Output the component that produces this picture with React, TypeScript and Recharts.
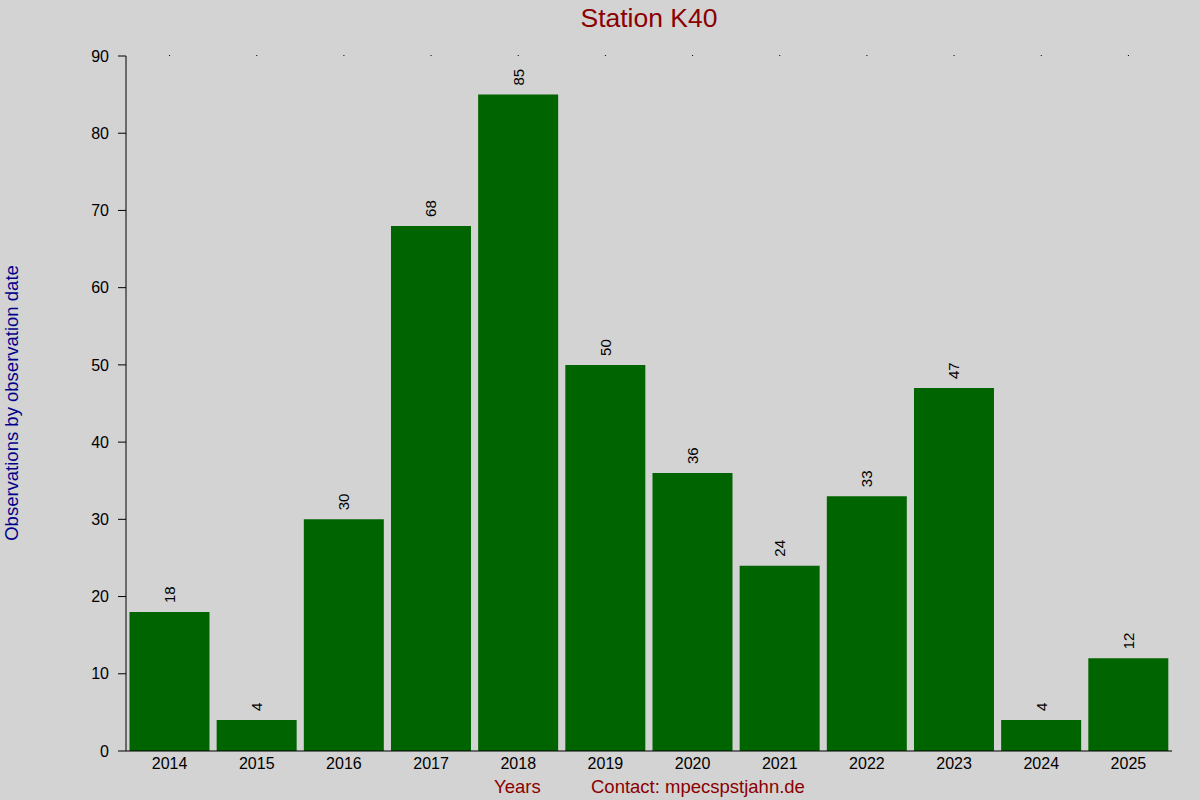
import React from 'react';
import { BarChart, Bar, XAxis, YAxis, LabelList } from 'recharts';

const years = ['2014', '2015', '2016', '2017', '2018', '2019', '2020', '2021', '2022', '2023', '2024', '2025'];
const observations = [18, 4, 30, 68, 85, 50, 36, 24, 33, 47, 4, 12];
const yTicks = [0, 10, 20, 30, 40, 50, 60, 70, 80, 90];

const data = years.map((year, i) => ({ year, count: observations[i] }));

const FONT = '"Liberation Sans", Arial, sans-serif';

// value label above each bar, rotated to read bottom-up
const RotatedLabel = (props: any) => {
  const { x, y, width, value } = props;
  const cx = x + width / 2;
  const cy = y - 9;
  return (
    <text
      x={cx}
      y={cy}
      transform={`rotate(-90, ${cx}, ${cy})`}
      textAnchor="start"
      dominantBaseline="central"
      fontSize={15}
      fontFamily={FONT}
      fill="#000"
    >
      {value}
    </text>
  );
};

export default function App() {
  return (
    <div style={{ position: 'absolute', left: 0, top: 0, width: 1200, height: 800, background: '#d3d3d3' }}>
      <BarChart
        width={1200}
        height={800}
        data={data}
        margin={{ top: 55, right: 28, bottom: 0, left: 66 }}
        barCategoryGap="4%"
      >
        <XAxis
          xAxisId="top"
          orientation="top"
          dataKey="year"
          height={1}
          axisLine={false}
          tickSize={1}
          tickLine={{ stroke: '#000' }}
          tickFormatter={() => ''}
        />
        <XAxis
          dataKey="year"
          height={49}
          axisLine={{ stroke: '#000' }}
          tickLine={false}
          tickSize={0}
          tickMargin={7}
          tick={{ fill: '#000', fontSize: 16, fontFamily: FONT }}
        />
        <YAxis
          width={60}
          domain={[0, 90]}
          ticks={yTicks}
          axisLine={{ stroke: '#000' }}
          tickLine={{ stroke: '#000' }}
          tickSize={8}
          tickMargin={9}
          tick={{ fill: '#000', fontSize: 16, fontFamily: FONT }}
        />
        <Bar dataKey="count" fill="#006400" isAnimationActive={false}>
          <LabelList dataKey="count" content={RotatedLabel} />
        </Bar>
      </BarChart>
      <svg width={1200} height={800} style={{ position: 'absolute', left: 0, top: 0, pointerEvents: 'none' }}>
        <text x={649} y={18} textAnchor="middle" dominantBaseline="central" fontSize={26.5} fontFamily={FONT} fill="#8b0000">
          Station K40
        </text>
        <text
          x={11}
          y={403}
          transform="rotate(-90, 11, 403)"
          textAnchor="middle"
          dominantBaseline="central"
          fontSize={18.5}
          fontFamily={FONT}
          fill="#00008b"
        >
          Observations by observation date
        </text>
        <text x={494} y={786} dominantBaseline="central" fontSize={18.5} fontFamily={FONT} fill="#8b0000">
          Years
        </text>
        <text x={591} y={786} dominantBaseline="central" fontSize={18.5} fontFamily={FONT} fill="#8b0000">
          Contact: mpecspstjahn.de
        </text>
      </svg>
    </div>
  );
}
